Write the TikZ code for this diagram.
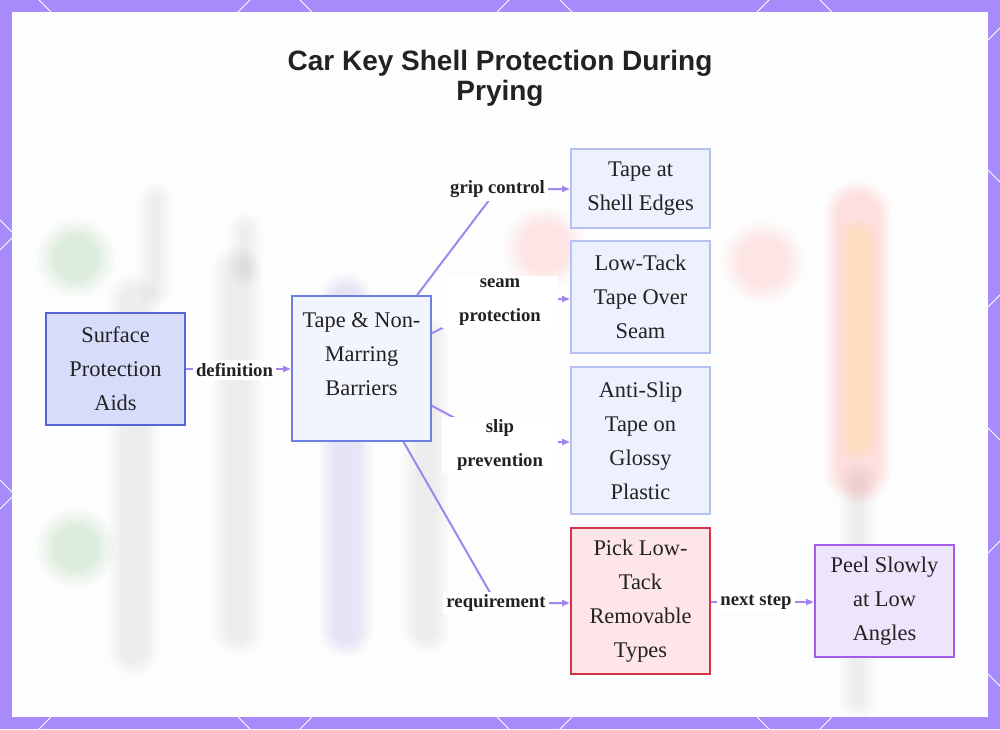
\documentclass[tikz,border=0pt]{standalone}
\usepackage{fontspec}
\setmainfont{Liberation Serif}
\newfontfamily\titlefont{Liberation Sans}
\usetikzlibrary{arrows.meta,calc}
\definecolor{framec}{HTML}{A78BFA}
\definecolor{panelc}{HTML}{FDFDFD}
\definecolor{edgec}{HTML}{A285EE}
\definecolor{surfill}{HTML}{D7DCFA}
\definecolor{surdraw}{HTML}{5566D0}
\definecolor{tnmfill}{HTML}{F3F5FE}
\definecolor{tnmdraw}{HTML}{6A80E3}
\definecolor{chfill}{HTML}{EDF0FD}
\definecolor{chdraw}{HTML}{B6C1F3}
\definecolor{pkfill}{HTML}{FDE5E9}
\definecolor{pkdraw}{HTML}{CF3447}
\definecolor{plfill}{HTML}{EEE4FC}
\definecolor{pldraw}{HTML}{A45DE5}
\definecolor{txtc}{HTML}{222222}
\newcommand{\softbar}[5]{%
  \foreach \k in {0,...,7}{\draw[#1,opacity=0.016,line width={#5+\k*4},line cap=round] (#2,#3) -- (#2,#4);}}
\newcommand{\softdot}[4]{%
  \foreach \k in {0,...,7}{\fill[#1,opacity=0.014] (#2,#3) circle ({#4+\k*2.5});}}
\tikzset{
  box/.style={draw, line width=2pt, minimum width=139pt, inner sep=0pt,
    font=\fontsize{22.4}{34}\selectfont, align=center, text=txtc},
  surbox/.style={box, fill=surfill, draw=surdraw},
  tnmbox/.style={box, fill=tnmfill, draw=tnmdraw},
  chbox/.style={box, fill=chfill, draw=chdraw},
  pkbox/.style={box, fill=pkfill, draw=pkdraw},
  plbox/.style={box, fill=plfill, draw=pldraw},
  boxtext/.style={inner sep=0pt, font=\fontsize{22.4}{34}\selectfont, align=center, text=txtc},
  edge/.style={draw=edgec, line width=2pt, -{Triangle[length=8pt,width=6pt]}},
  lbl/.style={fill=white, inner sep=3pt, text=txtc, font=\bfseries\fontsize{18.7}{34}\selectfont},
  lbl2/.style={lbl, align=center, text width=110pt},
  frameline/.style={draw=white, line width=0.8pt}
}
\begin{document}
\begin{tikzpicture}[x=1pt,y=-1pt]
\useasboundingbox (0,0) rectangle (1000,729);
% frame and panel
\fill[framec] (0,0) rectangle (1000,729);
\fill[panelc] (12,12) rectangle (988,717);
\foreach \x in {39,300,560,820}{
  \draw[frameline] (\x,0) -- ++(12,12);
  \draw[frameline] (\x,729) -- ++(12,-12);}
\foreach \x in {250,509,769}{
  \draw[frameline] (\x,0) -- ++(-12,12);
  \draw[frameline] (\x,729) -- ++(-12,-12);}
\draw[frameline] (0,220) -- (12,232);
\draw[frameline] (12,238) -- (0,250);
\draw[frameline] (0,480) -- (12,492);
\draw[frameline] (12,497) -- (0,509);
\draw[frameline] (988,40) -- (1000,28);
\draw[frameline] (988,170) -- (1000,182);
\draw[frameline] (988,307) -- (1000,295);
\draw[frameline] (988,428) -- (1000,440);
\draw[frameline] (988,553) -- (1000,541);
\draw[frameline] (988,674) -- (1000,686);
% faint blurred background scene
\begin{scope}
\clip (12,12) rectangle (988,717);
\softbar{gray}{134}{300}{650}{24}
\softbar{gray}{155}{200}{290}{6}
\softbar{gray}{238}{270}{630}{22}
\softbar{gray}{245}{230}{270}{6}
\softbar{blue!50!gray}{346}{300}{630}{26}
\softbar{gray}{426}{340}{630}{20}
\softbar{red!70!orange}{858}{215}{470}{40}
\softbar{yellow!80!orange}{858}{240}{440}{14}
\softbar{gray}{858}{480}{700}{10}
\softdot{green!60!black}{76}{258}{22}
\softdot{green!60!black}{76}{548}{22}
\softdot{red!70}{545}{248}{24}
\softdot{red!70}{763}{262}{24}
\end{scope}
% title
\node[font=\titlefont\bfseries\fontsize{28}{30}\selectfont, align=center, text=txtc] (title) at (500,78) {Car Key Shell Protection During\\Prying};
% nodes
\node[surbox, minimum height=112pt] (sur) at (115.5,369) {Surface\\Protection\\Aids};
\node[tnmbox, minimum height=145pt] (tnm) at (361.5,368.5) {};
\node[boxtext] (tnmtext) at (361.5,354.5) {Tape \& Non-\\Marring\\Barriers};
\node[chbox, minimum height=79pt] (t1) at (640.5,188.5) {Tape at\\Shell Edges};
\node[chbox, minimum height=112pt] (t2) at (640.5,297) {Low-Tack\\Tape Over\\Seam};
\node[chbox, minimum height=147pt] (t3) at (640.5,440.5) {Anti-Slip\\Tape on\\Glossy\\Plastic};
\node[pkbox, minimum height=146pt] (pick) at (640.5,601) {Pick Low-\\Tack\\Removable\\Types};
\node[plbox, minimum height=112pt] (peel) at (884.5,601) {Peel Slowly\\at Low\\Angles};
% label anchor points
\coordinate (c1) at (234.5,370);
\coordinate (c2) at (497.5,189);
\coordinate (c3) at (500,299);
\coordinate (c4) at (500,442);
\coordinate (c5) at (496,603);
\coordinate (c6) at (756,602);
% connectors
\draw[edge] (sur.east) -- (sur.east -| tnm.west);
\draw[edge] (tnm) -- (c2) -- (c2 -| t1.west);
\draw[edge] (tnm) -- (c3) -- (c3 -| t2.west);
\draw[edge] (tnm) -- (c4) -- (c4 -| t3.west);
\draw[edge] (tnm) -- (c5) -- (c5 -| pick.west);
\draw[edge] (pick.east |- c6) -- (c6 -| peel.west);
% labels
\node[lbl] (l1) at (c1) {definition};
\node[lbl] (l2) at (c2) {grip control};
\node[lbl2] (l3) at ($(c3)+(0,3)$) {seam\\protection};
\node[lbl2] (l4) at ($(c4)+(0,3)$) {slip\\prevention};
\node[lbl] (l5) at (c5) {requirement};
\node[lbl] (l6) at (c6) {next step};
\end{tikzpicture}
\end{document}
